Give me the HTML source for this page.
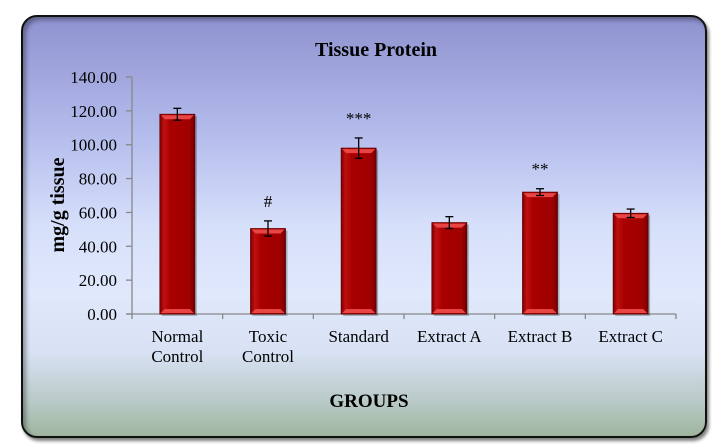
<!DOCTYPE html>
<html><head><meta charset="utf-8"><style>
body{margin:0;width:721px;height:445px;background:#fff;overflow:hidden;font-family:"Liberation Serif",serif;}
#frame{position:absolute;left:21px;top:15px;width:682px;height:419px;border:2.5px solid #111;border-radius:16px;
background:linear-gradient(to bottom,#8e92cf 0%,#b4bcec 28%,#d6e0fa 50%,#e0e8fc 66%,#d8e2f4 80%,#b8c9c6 92%,#9fb59f 100%);
box-shadow:inset 3px 3px 4px rgba(0,0,0,0.35),2px 3px 3px rgba(0,0,0,0.5);}
svg{position:absolute;left:0;top:0}
</style></head><body>
<div id="frame"></div>
<svg id="chart" width="721" height="445">
<defs>
<linearGradient id="bg" x1="0" x2="1" y1="0" y2="0">
<stop offset="0" stop-color="#7a0000"/><stop offset="0.12" stop-color="#c01010"/><stop offset="0.3" stop-color="#a80000"/><stop offset="0.85" stop-color="#a00000"/><stop offset="1" stop-color="#700000"/>
</linearGradient>
</defs>
<text x="376" y="56" text-anchor="middle" font-size="20" font-weight="bold">Tissue Protein</text>
<text x="369" y="407" text-anchor="middle" font-size="19" font-weight="bold">GROUPS</text>
<text transform="translate(64,205) rotate(-90)" text-anchor="middle" font-size="20" font-weight="bold">mg/g tissue</text>
</svg>
<script>
const categories=[["Normal","Control"],["Toxic","Control"],["Standard"],["Extract A"],["Extract B"],["Extract C"]];
const values=[118,50.5,98,54,72,59.5];
const errors=[3.5,4.5,6,3.5,2,2.5];
const marks=["","#","***","","**",""];
const yTicks=[0,20,40,60,80,100,120,140];
const yLabels=["0.00","20.00","40.00","60.00","80.00","100.00","120.00","140.00"];
const svg=document.getElementById('chart');
const NS="http://www.w3.org/2000/svg";
const x0=132,x1=676,y0=314,y1=77;
const cw=(x1-x0)/categories.length;
const y=v=>y0-(v/140)*(y0-y1);
const xc=i=>x0+cw*(i+0.5);
function mk(t,a,p){const e=document.createElementNS(NS,t);for(const k in a)e.setAttribute(k,a[k]);(p||svg).appendChild(e);return e;}
let ax=mk('line',{x1:x0,y1:y1,x2:x0,y2:y0,stroke:'#888','stroke-width':1.3});


let bx=mk('line',{x1:x0-6,y1:y0,x2:x1,y2:y0,stroke:'#888','stroke-width':1.3});


yTicks.forEach((v,i)=>{
 mk('line',{x1:x0-6,y1:y(v),x2:x0,y2:y(v),stroke:'#888','stroke-width':1.3});
 const t=mk('text',{x:x0-15,y:y(v)+6,'text-anchor':'end','font-size':17});
 t.textContent=yLabels[i];
 
 
});
for(let i=0;i<=categories.length;i++)mk('line',{x1:x0+cw*i,y1:y0,x2:x0+cw*i,y2:y0+5,stroke:'#888','stroke-width':1.3});
const bw=35;
values.forEach((v,i)=>{
 const cx=xc(i),top=y(v);
 const g=mk('g',{});
 
 
 mk('rect',{x:cx-bw/2+2,y:top+2,width:bw,height:y0-top,fill:'rgba(0,0,0,0.25)'},g);
 mk('rect',{x:cx-bw/2,y:top,width:bw,height:y0-top,fill:'url(#bg)',stroke:'#6a0000','stroke-width':0.8},g);
 mk('polygon',{points:`${cx-bw/2+1},${top+1} ${cx+bw/2-1},${top+1} ${cx+bw/2-5},${top+5} ${cx-bw/2+5},${top+5}`,fill:'#e84545'},g);
 mk('polygon',{points:`${cx-bw/2+1},${y0-1} ${cx+bw/2-1},${y0-1} ${cx+bw/2-5},${y0-5} ${cx-bw/2+5},${y0-5}`,fill:'#e84545'},g);
 const e=errors[i],ea=y(v+e),eb=y(v-e);
 const eg=mk('g',{stroke:'#000','stroke-width':1.3},g);
 
 
 mk('line',{x1:cx,y1:ea,x2:cx,y2:eb},eg);
 mk('line',{x1:cx-4,y1:ea,x2:cx+4,y2:ea},eg);
 mk('line',{x1:cx-4,y1:eb,x2:cx+4,y2:eb},eg);
 if(marks[i]){const m=mk('text',{x:cx,y:ea-14,'text-anchor':'middle','font-size':17});m.textContent=marks[i];
  
  }
 categories[i].forEach((line,j)=>{const t=mk('text',{x:cx,y:342+j*20,'text-anchor':'middle','font-size':17});t.textContent=line;
  
  });
});
</script>
</body></html>
